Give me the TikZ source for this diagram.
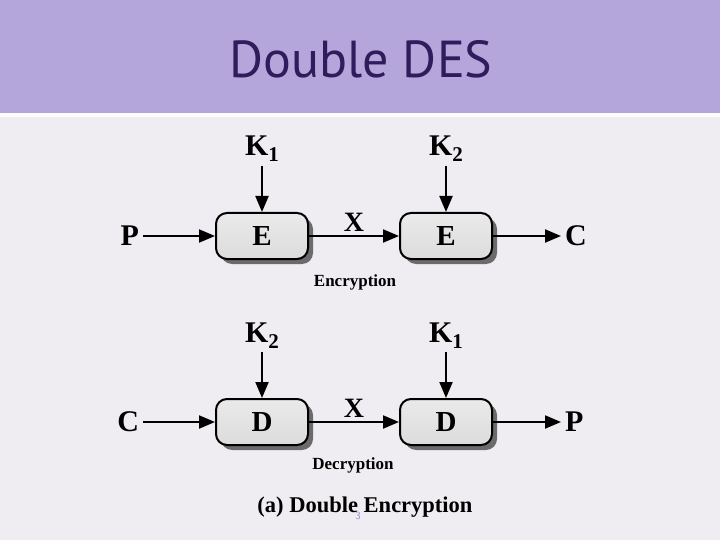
\documentclass[tikz,border=0pt]{standalone}
\usepackage{fontspec}
\setmainfont{Liberation Serif}
\newfontfamily\titlefont{PT Sans}
\usetikzlibrary{positioning,arrows.meta,shadows}

\definecolor{bandpurple}{HTML}{B4A5DA}
\definecolor{titleink}{HTML}{2E1C5C}
\definecolor{paper}{HTML}{EFEDF1}
\definecolor{boxgrey}{HTML}{DCDCDC}
\definecolor{pagenum}{HTML}{9A8FCB}

\newcommand{\keylbl}[1]{K\raisebox{-6pt}{\fontsize{21}{21}\selectfont #1}}

\begin{document}
\begin{tikzpicture}[x=1pt,y=-1pt,>={Triangle[length=16pt,width=13pt]},line width=2pt]

  \tikzstyle{stage}=[rounded corners=11pt,draw=black,line width=2pt,top color=boxgrey!60!white,bottom color=boxgrey,minimum width=92pt,minimum height=46pt,inner sep=0pt,font=\fontsize{29}{29}\selectfont\bfseries,drop shadow={shadow xshift=5pt,shadow yshift=-5pt,fill=black,opacity=0.55}]
  \tikzstyle{texto}=[inner sep=3pt,font=\fontsize{30}{30}\selectfont\bfseries]
  \tikzstyle{xlbl}=[inner sep=4pt,font=\fontsize{28}{28}\selectfont\bfseries]
  \tikzstyle{subtitle}=[inner sep=0pt,font=\fontsize{17}{17}\selectfont\bfseries]

  % slide background
  \useasboundingbox (0,0) rectangle (720,540);
  \fill [paper] (0,0) rectangle (720,540);
  \fill [bandpurple] (0,0) rectangle (720,113);
  \fill [white!85!paper] (0,113) rectangle (720,117);
  \node [anchor=base,text=titleink,font=\titlefont\fontsize{52}{52}\selectfont] (title) at (361,78) {Double DES};

  \begin{scope}

    % encryption
    \node [stage] (e1) at (262,236) {E};

    \node [stage] (e2) [right=90pt of e1] {E}
    edge [<-] node [xlbl,above] (x1) {X} (e1);

    \node [texto] (p1) [left=72pt of e1] {P}
    edge [->] (e1);

    \node [texto] (c1) [right=68pt of e2] {C}
    edge [<-] (e2);

    \node [texto] (k1) [above=46pt of e1] {\keylbl{1}}
    edge [->] (e1);

    \node [texto] (k2) [above=46pt of e2] {\keylbl{2}}
    edge [->] (e2);

    \node [subtitle] (enc) at (355,282) {Encryption};

    % decryption
    \node [stage] (d1) [below=138pt of e1] {D};

    \node [stage] (d2) [below=138pt of e2] {D}
    edge [<-] node [xlbl,above] (x2) {X} (d1);

    \node [texto] (c2) [left=72pt of d1] {C}
    edge [->] (d1);

    \node [texto] (p2) [right=68pt of d2] {P}
    edge [<-] (d2);

    \node [texto] (k3) [above=46pt of d1] {\keylbl{2}}
    edge [->] (d1);

    \node [texto] (k4) [above=46pt of d2] {\keylbl{1}}
    edge [->] (d2);

    \node [subtitle] (dec) at (353,465) {Decryption};

    \node [inner sep=0pt,font=\fontsize{22.5}{22.5}\selectfont\bfseries] (fig) at (365,507) {(a) Double Encryption};

    \node [inner sep=0pt,text=pagenum,font=\sffamily\fontsize{11}{11}\selectfont] (num) at (358,516) {3};

  \end{scope}

\end{tikzpicture}
\end{document}
